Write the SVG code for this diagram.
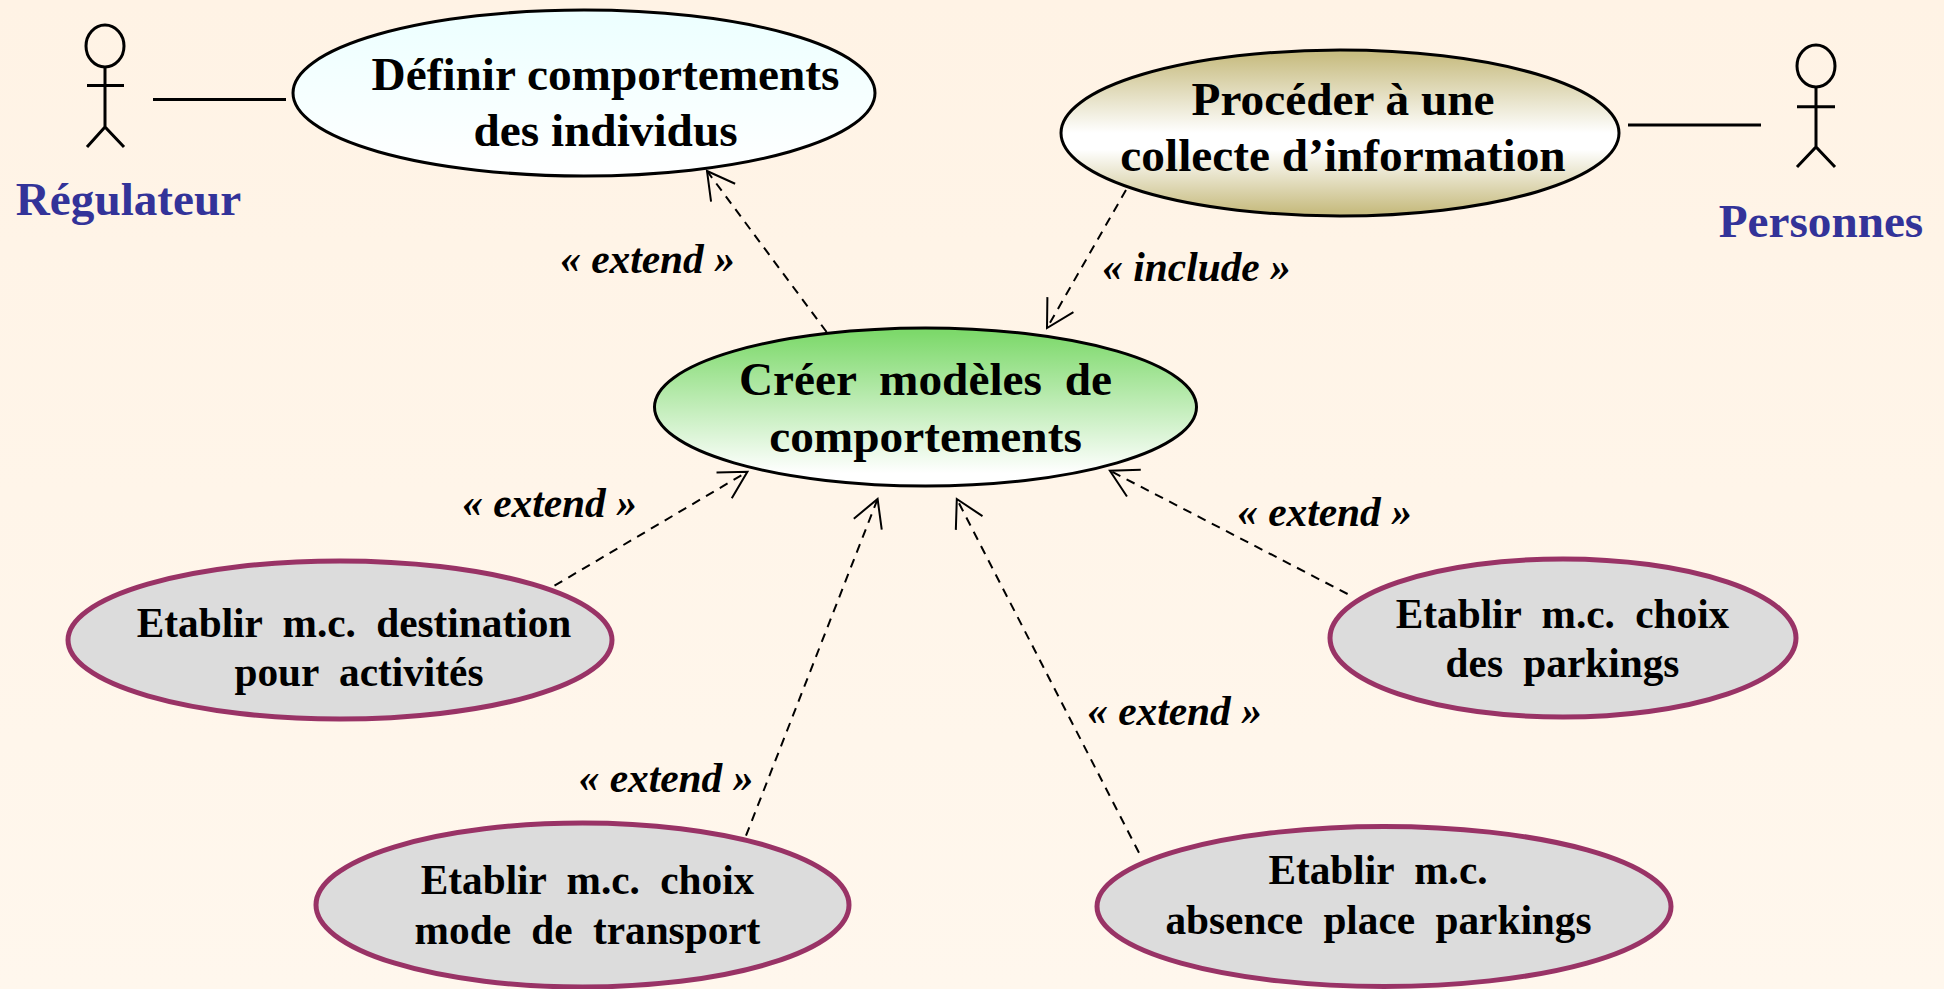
<svg xmlns="http://www.w3.org/2000/svg" width="1944" height="989" viewBox="0 0 1944 989">
<defs>
<linearGradient id="bg" x1="0" y1="0" x2="0" y2="1"><stop offset="0" stop-color="#FFF3E5"/><stop offset="1" stop-color="#FFF7ED"/></linearGradient>
<linearGradient id="gCyan" x1="0" y1="0" x2="0" y2="1"><stop offset="0" stop-color="#ECFFFF"/><stop offset="1" stop-color="#FFFFFF"/></linearGradient>
<linearGradient id="gKhaki" x1="0" y1="0" x2="0" y2="1"><stop offset="0.03" stop-color="#C8BD82"/><stop offset="0.5" stop-color="#FFFFFF"/><stop offset="0.6" stop-color="#FFFFFF"/><stop offset="0.97" stop-color="#C8BD82"/></linearGradient>
<linearGradient id="gGreen" x1="0" y1="0" x2="0" y2="1"><stop offset="0.03" stop-color="#7DD96B"/><stop offset="0.92" stop-color="#FFFFFF"/></linearGradient>
<marker id="open" markerUnits="userSpaceOnUse" markerWidth="40" markerHeight="40" viewBox="-32 -20 40 40" refX="0" refY="0" orient="auto" overflow="visible"><path d="M-27,-15 L0,0 L-27,15" fill="none" stroke="#000" stroke-width="2"/></marker>
</defs>
<style>
text{font-family:"Liberation Serif","Times New Roman",serif;font-weight:bold;fill:#000;text-anchor:middle}
.main{font-size:47.3px}
.sub{font-size:41.3px;word-spacing:10px}
.lab{font-size:41.400px;font-style:italic}
.actorname{font-size:47.200px;fill:#333399}
.ol{stroke:#000;stroke-width:3}
.gray{fill:#DCDCDC;stroke:#993366;stroke-width:5}
.actor{fill:none;stroke:#000;stroke-width:3}
.assoc{stroke:#000;stroke-width:3;fill:none}
.dep{stroke:#000;stroke-width:2;stroke-dasharray:9 7;fill:none}
</style>
<rect width="1944" height="989" fill="url(#bg)"/>
<g id="connectors">
<line class="assoc" x1="153" y1="99.5" x2="286" y2="99.5"/>
<line class="assoc" x1="1628" y1="125" x2="1761" y2="125"/>
<line class="dep" x1="826.6" y1="332" x2="707" y2="171" marker-end="url(#open)"/>
<line class="dep" x1="1126" y1="190" x2="1047" y2="328" marker-end="url(#open)"/>
<line class="dep" x1="554.5" y1="585.7" x2="747.4" y2="471.7" marker-end="url(#open)"/>
<line class="dep" x1="746" y1="835.7" x2="877.6" y2="499" marker-end="url(#open)"/>
<line class="dep" x1="1139" y1="852.7" x2="956.8" y2="499" marker-end="url(#open)"/>
<line class="dep" x1="1347.6" y1="594" x2="1109.9" y2="470.7" marker-end="url(#open)"/>
</g>
<g id="actor-regulateur">
<ellipse class="actor" cx="105" cy="46" rx="19" ry="21"/>
<path class="actor" d="M105,67V127M87,85.5H124M87,147L105,127L124,147"/>
<text class="actorname" x="128.5" y="214.500">Régulateur</text>
</g>
<g id="actor-personnes">
<ellipse class="actor" cx="1816" cy="66" rx="19" ry="21"/>
<path class="actor" d="M1816,87V147M1797,106.700H1835M1797,167L1816,147L1835,167"/>
<text class="actorname" x="1821" y="237">Personnes</text>
</g>
<g id="node-definir">
<ellipse class="ol" cx="584" cy="93" rx="291" ry="83" fill="url(#gCyan)"/>
<text class="main" x="605.5" y="90">Définir comportements</text>
<text class="main" x="605.5" y="146">des individus</text>
</g>
<g id="node-proceder">
<ellipse class="ol" cx="1340" cy="133" rx="279" ry="83" fill="url(#gKhaki)"/>
<text class="main" x="1343" y="115">Procéder à une</text>
<text class="main" x="1343" y="171">collecte d’information</text>
</g>
<g id="node-creer">
<ellipse class="ol" cx="925.500" cy="407" rx="271" ry="79" fill="url(#gGreen)"/>
<text class="main" x="925.500" y="395" style="word-spacing:11px">Créer modèles de</text>
<text class="main" x="925.500" y="452">comportements</text>
</g>
<g id="node-destination">
<ellipse class="gray" cx="340" cy="640" rx="272" ry="79"/>
<text class="sub" x="354" y="637">Etablir m.c. destination</text>
<text class="sub" x="359" y="686">pour activités</text>
</g>
<g id="node-transport">
<ellipse class="gray" cx="582.500" cy="905" rx="266.500" ry="82"/>
<text class="sub" x="587.500" y="894">Etablir m.c. choix</text>
<text class="sub" x="587.500" y="943.500">mode de transport</text>
</g>
<g id="node-choix-parkings">
<ellipse class="gray" cx="1563" cy="638" rx="233" ry="79"/>
<text class="sub" x="1562.500" y="627.500">Etablir m.c. choix</text>
<text class="sub" x="1562.500" y="677">des parkings</text>
</g>
<g id="node-absence">
<ellipse class="gray" cx="1384" cy="906.500" rx="287" ry="80"/>
<text class="sub" x="1378" y="883.500">Etablir m.c.</text>
<text class="sub" x="1378.500" y="933.500">absence place parkings</text>
</g>
<g id="labels">
<text class="lab" x="647.500" y="273">« extend »</text>
<text class="lab" x="1196.500" y="281">« include »</text>
<text class="lab" x="549.500" y="517">« extend »</text>
<text class="lab" x="1324.500" y="526">« extend »</text>
<text class="lab" x="666" y="792">« extend »</text>
<text class="lab" x="1174.500" y="725">« extend »</text>
</g>
</svg>
